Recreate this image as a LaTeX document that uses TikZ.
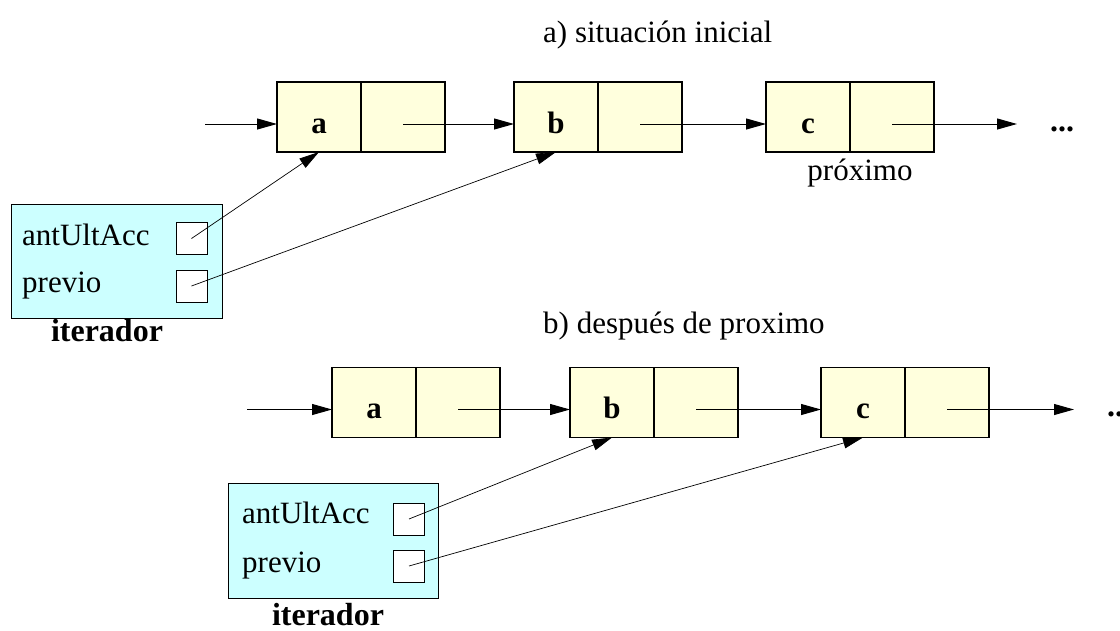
\documentclass[tikz,border=0pt]{standalone}
\usepackage{fontspec}
\setmainfont{Liberation Serif}
\usetikzlibrary{arrows.meta,positioning}
\definecolor{celda}{RGB}{255,255,221}
\definecolor{celeste}{RGB}{204,255,255}
\tikzset{
  cell/.style={draw, line width=1.1pt, fill=celda, minimum width=84pt, minimum height=70pt, inner sep=0pt, outer sep=0pt},
  datacell/.style={cell, font=\fontsize{31}{36}\selectfont\bfseries, text height=32pt, text depth=0pt},
  ptr/.style={-{Triangle[length=20pt,width=11pt]}, line width=1pt},
  thinptr/.style={-{Triangle[length=20pt,width=11pt]}, line width=0.7pt},
  slot/.style={draw, fill=white, line width=0.8pt, minimum width=31pt, minimum height=32pt, inner sep=0pt},
  iterbox/.style={draw, fill=celeste, line width=1pt, inner sep=0pt},
  txt/.style={font=\fontsize{31}{36}\selectfont, inner sep=0pt},
  boldtxt/.style={font=\fontsize{32}{38}\selectfont\bfseries, inner sep=0pt}
}
% one list element: name, x, y, letter
\newcommand{\drawelem}[4]{
\node[datacell] (#1L) at (#2, #3) {#4};
\node[cell, right=0pt of #1L] (#1R) {};
}

\begin{document}
\begin{tikzpicture}[x=1pt, y=-1pt]
\useasboundingbox (0,0) rectangle (1120,630);

% a) situacion inicial
\node[txt, anchor=base west] (tit1) at (543,42) {a) situación inicial};
\drawelem{a1}{319}{117}{a}
\drawelem{b1}{556}{117}{b}
\drawelem{c1}{808}{117}{c}
\coordinate (in1) at (205,124);
\coordinate (fin1) at (1017,124);
\draw[ptr] (in1) -- (in1 -| a1L.west);
\draw[ptr] ([yshift=-7pt]a1R.center) -- ([yshift=-7pt]b1L.west);
\draw[ptr] ([yshift=-7pt]b1R.center) -- ([yshift=-7pt]c1L.west);
\draw[ptr] ([yshift=-7pt]c1R.center) -- (fin1);
\node[boldtxt, anchor=base west] (etc1) at (1050,131) {...};
\node[txt, anchor=base] (prox) at (860,180) {próximo};

\node[iterbox, minimum width=211pt, minimum height=114pt] (it1) at (116.5,261) {};
\node[slot] (s1a) at (191.5,238.5) {};
\node[slot] (s1b) at (191.5,286) {};
\node[txt, anchor=base west] (l1a) at (22,245) {antUltAcc};
\node[txt, anchor=base west] (l1b) at (22,292) {previo};
\node[boldtxt, anchor=base] (n1) at (107,341) {iterador};
\draw[thinptr] (s1a.center) -- (a1L.south);
\draw[thinptr] (s1b.center) -- (b1L.south);

% b) despues de proximo
\node[txt, anchor=base west] (tit2) at (543,333) {b) después de proximo};
\drawelem{a2}{374}{402.5}{a}
\drawelem{b2}{612}{402.5}{b}
\drawelem{c2}{863}{402.5}{c}
\coordinate (in2) at (247,409.5);
\coordinate (fin2) at (1074,409.5);
\draw[ptr] (in2) -- (in2 -| a2L.west);
\draw[ptr] ([yshift=-7pt]a2R.center) -- ([yshift=-7pt]b2L.west);
\draw[ptr] ([yshift=-7pt]b2R.center) -- ([yshift=-7pt]c2L.west);
\draw[ptr] ([yshift=-7pt]c2R.center) -- (fin2);
\node[boldtxt, anchor=base west] (etc2) at (1107,416.5) {...};

\node[iterbox, minimum width=210pt, minimum height=115pt] (it2) at (333,540.5) {};
\node[slot] (s2a) at (409,519) {};
\node[slot] (s2b) at (409,566) {};
\node[txt, anchor=base west] (l2a) at (242,523) {antUltAcc};
\node[txt, anchor=base west] (l2b) at (242,572) {previo};
\node[boldtxt, anchor=base] (n2) at (328,625) {iterador};
\draw[thinptr] (s2a.center) -- (b2L.south);
\draw[thinptr] (s2b.center) -- (c2L.south);
\end{tikzpicture}
\end{document}
